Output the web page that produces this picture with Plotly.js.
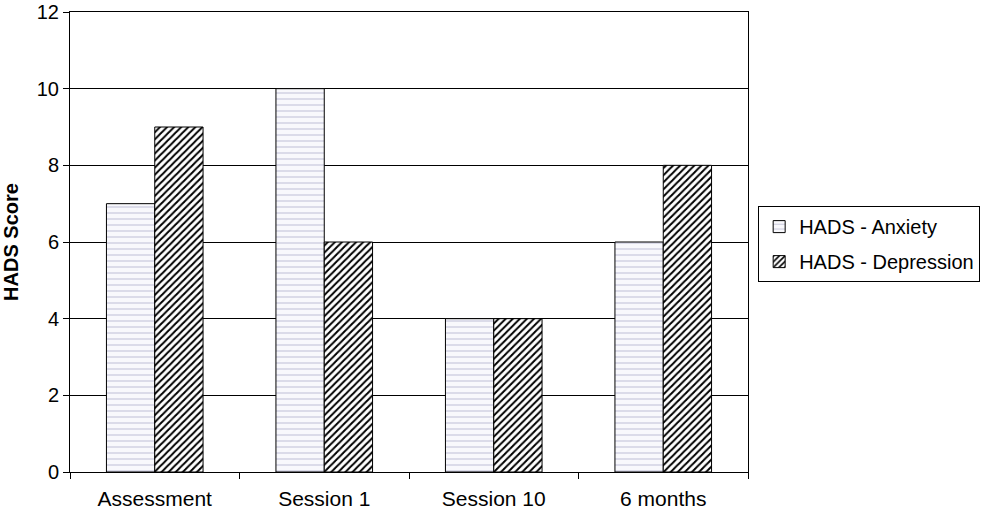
<!DOCTYPE html>
<html>
<head>
<meta charset="utf-8">
<script src="https://cdn.plot.ly/plotly-3.0.1.min.js"></script>
<style>body{margin:0;background:#fff}#chart{width:983px;height:512px}</style>
</head>
<body>
<div id="chart"></div>
<script>
var categories = ['Assessment', 'Session 1', 'Session 10', '6 months'];
var anxiety = [7, 10, 4, 6];
var depression = [9, 6, 4, 8];

var anx = {
  type: 'bar',
  name: 'HADS - Anxiety',
  legendgroup: 'a',
  x: categories,
  y: anxiety,
  marker: {
    color: '#ffffff',
    line: {color: '#000000', width: 1},
    pattern: {shape: '-', fgcolor: '#c8c8dc', bgcolor: '#f8f8fc', size: 6, solidity: 0.2}
  }
};

var dep = {
  type: 'bar',
  name: 'HADS - Depression',
  legendgroup: 'd',
  x: categories,
  y: depression,
  marker: {
    color: '#ffffff',
    line: {color: '#000000', width: 1},
    pattern: {shape: '/', fgcolor: '#000000', bgcolor: '#ffffff', size: 5, solidity: 0.4}
  }
};

var layout = {
  width: 983,
  height: 512,
  margin: {l: 70, r: 235, t: 12, b: 40, autoexpand: false},
  paper_bgcolor: '#ffffff',
  plot_bgcolor: '#ffffff',
  font: {family: 'Liberation Sans, Arial, sans-serif', size: 21, color: '#000000'},
  barmode: 'group',
  bargap: 0.43,
  bargroupgap: 0,
  xaxis: {
    showline: true,
    linecolor: '#000000',
    linewidth: 1,
    mirror: true,
    ticks: 'outside',
    tickson: 'boundaries',
    ticklen: 6,
    tickcolor: '#000000',
    ticklabelstandoff: 8,
    showgrid: false,
    automargin: false
  },
  yaxis: {
    range: [0, 12],
    dtick: 2,
    showline: true,
    linecolor: '#000000',
    linewidth: 1,
    mirror: true,
    ticks: 'outside',
    ticklen: 6,
    tickcolor: '#000000',
    tickfont: {size: 20},
    ticklabeloverflow: 'allow',
    gridcolor: '#000000',
    gridwidth: 1,
    zeroline: false,
    automargin: false,
    title: {text: '<b>HADS Score</b>', font: {size: 20}, standoff: 14}
  },
  legend: {
    x: 1.015,
    y: 0.578,
    xanchor: 'left',
    yanchor: 'top',
    bordercolor: '#000000',
    borderwidth: 1,
    traceorder: 'grouped',
    font: {size: 20},
    tracegroupgap: 6
  },
  showlegend: true
};

Plotly.newPlot('chart', [anx, dep], layout, {staticPlot: true});
</script>
</body>
</html>
